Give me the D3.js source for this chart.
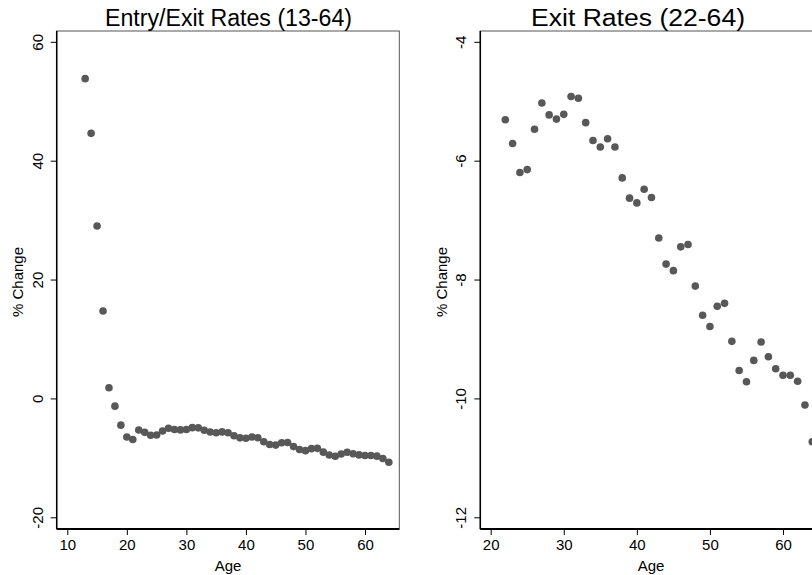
<!DOCTYPE html>
<html><head><meta charset="utf-8">
<script src="https://cdn.jsdelivr.net/npm/d3@7"></script>
<style>body{margin:0;background:#fff}svg{display:block}
text{font-family:"Liberation Sans",Arial,sans-serif;fill:#000}</style>
</head><body>
<svg id="c" width="812" height="575"></svg>
<script>
// Data
const entryAges = d3.range(13, 65);
const entryValues = [53.8, 44.6, 29.0, 14.7, 1.8, -1.3, -4.5, -6.5, -6.9,
  -5.31, -5.71, -6.20, -6.15, -5.47, -5.03, -5.23, -5.30, -5.22, -4.92, -4.95,
  -5.36, -5.66, -5.77, -5.63, -5.77, -6.29, -6.63, -6.71, -6.48, -6.62,
  -7.30, -7.74, -7.85, -7.45, -7.41, -8.11, -8.60, -8.79, -8.45, -8.40,
  -9.04, -9.53, -9.72, -9.36, -9.05, -9.30, -9.50, -9.61, -9.61, -9.71, -10.11, -10.73];
const exitAges = d3.range(22, 65);
const exitValues = [-5.31, -5.71, -6.20, -6.15, -5.47, -5.03, -5.23, -5.30, -5.22, -4.92, -4.95,
  -5.36, -5.66, -5.77, -5.63, -5.77, -6.29, -6.63, -6.71, -6.48, -6.62,
  -7.30, -7.74, -7.85, -7.45, -7.41, -8.11, -8.60, -8.79, -8.45, -8.40,
  -9.04, -9.53, -9.72, -9.36, -9.05, -9.30, -9.50, -9.61, -9.61, -9.71, -10.11, -10.73];
const entryXTicks = [10, 20, 30, 40, 50, 60];
const entryYTicks = [-20, 0, 20, 40, 60];
const exitXTicks = [20, 30, 40, 50, 60];
const exitYTicks = [-12, -10, -8, -6, -4];

const svg = d3.select("#c");
const plotTop = 31, plotBottom = 529;
const fmt = d => String(d);

function panel(opts) {
  const x = d3.scaleLinear().domain(opts.xDomain).range([opts.x0, opts.x1]);
  const y = d3.scaleLinear().domain(opts.yDomain).range([plotBottom, plotTop]);
  const g = svg.append("g");
  g.append("rect").attr("x", opts.x0).attr("y", plotTop).attr("width", opts.x1 - opts.x0)
    .attr("height", plotBottom - plotTop).attr("fill", "none").attr("stroke", "#555").attr("stroke-width", 1);
  const xa = g.append("g").attr("transform", `translate(0,${plotBottom})`)
    .call(d3.axisBottom(x).tickValues(opts.xTicks).tickSize(6).tickPadding(4).tickFormat(fmt));
  xa.select(".domain").attr("stroke", "#000").attr("stroke-width", 2)
    .attr("d", `M${opts.x0},0H${opts.x1}`);
  xa.selectAll(".tick line").attr("stroke", "#000");
  xa.selectAll(".tick text").attr("font-size", 15).attr("font-family", null).attr("fill", "#000");
  const ya = g.append("g").attr("transform", `translate(${opts.x0},0)`)
    .call(d3.axisLeft(y).tickValues(opts.yTicks).tickSize(6).tickFormat(fmt));
  ya.select(".domain").attr("stroke", "#000").attr("stroke-width", 1.5)
    .attr("d", `M0,${plotTop}V${plotBottom}`);
  ya.selectAll(".tick line").attr("stroke", "#000");
  ya.selectAll(".tick text").attr("font-size", 15).attr("font-family", null).attr("fill", "#000")
    .attr("x", null).attr("dy", null)
    .attr("text-anchor", "middle")
    .attr("transform", "translate(-14,0) rotate(-90)")
    .attr("y", 0);
  g.selectAll("circle.pt").data(opts.ages.map((a, i) => [a, opts.values[i]])).join("circle")
    .attr("class", "pt").attr("cx", d => x(d[0])).attr("cy", d => y(d[1]))
    .attr("r", 3.8).attr("fill", "#585858");
  g.append("text").attr("x", opts.titleX).attr("y", 26)
    .attr("font-size", 23).attr("textLength", opts.titleW).attr("lengthAdjust", "spacingAndGlyphs")
    .text(opts.title);
  g.append("text").attr("x", opts.xLabelX).attr("y", 571).attr("text-anchor", "middle")
    .attr("font-size", 15).text("Age");
  g.append("text").attr("transform", `translate(${opts.yLabelX},282) rotate(-90)`)
    .attr("text-anchor", "middle").attr("font-size", 15).text("% Change");
}

panel({
  x0: 56.7, x1: 399.3, xDomain: [8.22, 65.76], yDomain: [-21.97, 61.82],
  xTicks: entryXTicks, yTicks: entryYTicks, ages: entryAges, values: entryValues,
  title: "Entry/Exit Rates (13-64)", titleX: 105, titleW: 247, xLabelX: 228, yLabelX: 23
});
panel({
  x0: 480.3, x1: 823, xDomain: [18.58, 65.47], yDomain: [-12.197, -3.818],
  xTicks: exitXTicks, yTicks: exitYTicks, ages: exitAges, values: exitValues,
  title: "Exit Rates (22-64)", titleX: 531, titleW: 214, xLabelX: 651, yLabelX: 447
});
</script>
</body></html>
